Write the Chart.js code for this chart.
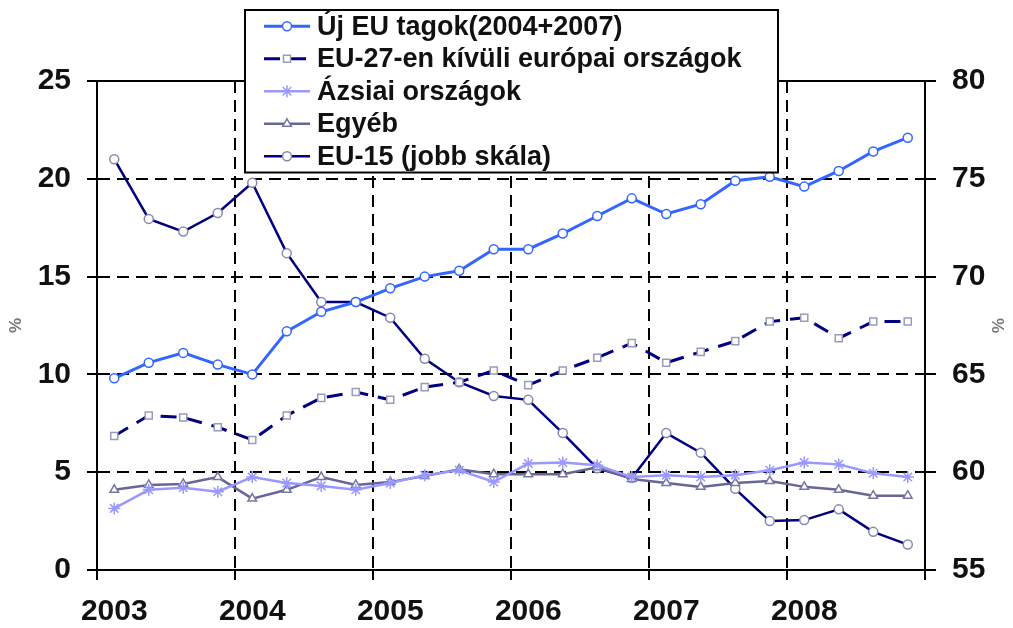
<!DOCTYPE html>
<html>
<head>
<meta charset="utf-8">
<script src="https://cdn.jsdelivr.net/npm/chart.js@4/dist/chart.umd.min.js"></script>
<style>
  html, body { margin: 0; padding: 0; background: #fff; }
  #wrap { width: 1013px; height: 628px; }
</style>
</head>
<body>
<div id="wrap"><canvas id="chart" width="1013" height="628"></canvas></div>
<script>
// ---- Data ----
const years = ["2003", "2004", "2005", "2006", "2007", "2008"];
const quarters = ["I", "II", "III", "IV"];
const quarterLabels = years.flatMap((y) => quarters.map((q) => y + " " + q));

const ujEuTagok = [9.8, 10.6, 11.1, 10.5, 10.0, 12.2, 13.2, 13.7, 14.4, 15.0, 15.3, 16.4,
                   16.4, 17.2, 18.1, 19.0, 18.2, 18.7, 19.9, 20.1, 19.6, 20.4, 21.4, 22.1];
const eu27Kivuli = [6.85, 7.9, 7.8, 7.3, 6.65, 7.9, 8.8, 9.1, 8.7, 9.35, 9.6, 10.2,
                    9.45, 10.2, 10.85, 11.6, 10.6, 11.15, 11.7, 12.7, 12.9, 11.85, 12.7, 12.7];
const azsiai = [3.15, 4.1, 4.2, 4.0, 4.75, 4.45, 4.3, 4.1, 4.45, 4.85, 5.1, 4.5,
                5.45, 5.5, 5.35, 4.75, 4.85, 4.75, 4.85, 5.1, 5.5, 5.4, 4.95, 4.75];
const egyeb = [4.1, 4.35, 4.4, 4.75, 3.65, 4.1, 4.75, 4.35, 4.5, 4.8, 5.15, 4.9,
               4.9, 4.9, 5.25, 4.65, 4.45, 4.25, 4.45, 4.55, 4.25, 4.1, 3.8, 3.8];
const eu15 = [76.0, 72.95, 72.3, 73.25, 74.8, 71.2, 68.7, 68.7, 67.9, 65.8, 64.6, 63.9,
              63.7, 62.0, 60.2, 59.7, 62.0, 61.0, 59.15, 57.5, 57.55, 58.1, 56.95, 56.3];

const leftTicks = { min: 0, max: 25, step: 5 };
const rightTicks = { min: 55, max: 80, step: 5 };

// ---- Style ----
const FONT = '"Liberation Sans", Arial, sans-serif';
const DASH = [12, 7];

// legend drawn as a framed box overlapping the plot (like the original)
const boxLegend = {
    id: "boxLegend",
    afterDraw(chart, args, opts) {
        const ctx = chart.ctx;
        const area = chart.chartArea;
        const sets = chart.data.datasets;
        const w = opts.width;
        const h = opts.rowHeight * sets.length;
        const left = Math.round((area.left + area.right - w) / 2);
        const top = opts.top;

        ctx.save();
        ctx.fillStyle = "#fff";
        ctx.fillRect(left, top, w, h);
        ctx.lineWidth = 2;
        ctx.strokeStyle = "#000";
        ctx.strokeRect(left, top, w, h);

        sets.forEach((ds, i) => {
            const y = top + opts.rowHeight * (i + 0.5);
            const x0 = left + 19;
            const x1 = x0 + 46;

            ctx.save();
            ctx.strokeStyle = ds.borderColor;
            ctx.lineWidth = ds.borderWidth;
            ctx.setLineDash(ds.borderDash || []);
            ctx.beginPath();
            ctx.moveTo(x0, y);
            ctx.lineTo(x1, y);
            ctx.stroke();
            ctx.restore();

            if (Chart.helpers && Chart.helpers.drawPoint) {
                ctx.save();
                ctx.setLineDash([]);
                ctx.fillStyle = ds.pointBackgroundColor;
                ctx.strokeStyle = ds.pointBorderColor;
                ctx.lineWidth = ds.pointBorderWidth;
                Chart.helpers.drawPoint(ctx, {
                    pointStyle: ds.pointStyle,
                    radius: ds.pointRadius,
                    rotation: 0,
                    borderWidth: ds.pointBorderWidth,
                }, (x0 + x1) / 2, y);
                ctx.restore();
            }

            ctx.fillStyle = "#111";
            ctx.font = opts.font;
            ctx.textBaseline = "middle";
            ctx.textAlign = "left";
            ctx.fillText(ds.label, x1 + 7, y + 1);
        });
        ctx.restore();
    },
};

function series(label, data, color, extra) {
    return Object.assign({
        label,
        data,
        borderColor: color,
        borderWidth: 2.5,
        pointBackgroundColor: "#fff",
        pointBorderColor: color,
        pointBorderWidth: 1.5,
        pointRadius: 4.5,
        pointStyle: "circle",
        tension: 0,
        fill: false,
        yAxisID: "y",
    }, extra);
}

new Chart(document.getElementById("chart"), {
    type: "line",
    data: {
        labels: quarterLabels,
        datasets: [
            series("Új EU tagok(2004+2007)", ujEuTagok, "#3366ff", { borderWidth: 3 }),
            series("EU-27-en kívüli európai országok", eu27Kivuli, "#000080", {
                borderWidth: 3,
                borderDash: [16, 10],
                pointStyle: "rect",
                pointRadius: 5,
                pointBorderColor: "#9a9abb",
            }),
            series("Ázsiai országok", azsiai, "#9999ff", {
                pointStyle: "star",
                pointRadius: 6,
            }),
            series("Egyéb", egyeb, "#666699", {
                pointStyle: "triangle",
                pointRadius: 5,
                pointBorderColor: "#7777a0",
            }),
            series("EU-15 (jobb skála)", eu15, "#000080", {
                pointBorderColor: "#8888b0",
                yAxisID: "y1",
            }),
        ],
    },
    options: {
        responsive: false,
        animation: false,
        layout: { padding: { top: 81, left: 4, right: 4, bottom: 0 } },
        plugins: {
            legend: { display: false },
            tooltip: { enabled: false },
            boxLegend: {
                width: 533,
                top: 10,
                rowHeight: 32.5,
                font: "bold 27px " + FONT,
            },
        },
        scales: {
            x: {
                type: "category",
                offset: true,
                grid: {
                    offset: true,
                    lineWidth: 2,
                    tickLength: 10,
                    color: (c) => (c.index === undefined || c.index % 4 === 0) ? "#000" : "rgba(0,0,0,0)",
                },
                border: { color: "#000", width: 2, dash: DASH },
                ticks: {
                    autoSkip: false,
                    maxRotation: 0,
                    padding: 14,
                    color: "#111",
                    font: { family: FONT, size: 30, weight: "bold" },
                    callback: (v, i) => (i % 4 === 0 ? years[i / 4] : ""),
                },
                afterFit: (s) => { s.height = 58; },
            },
            y: {
                position: "left",
                min: leftTicks.min,
                max: leftTicks.max,
                grid: { color: "#000", lineWidth: 2, tickLength: 10 },
                border: {
                    color: "#000",
                    width: 2,
                    dash: (c) => (c.tick && c.tick.value === leftTicks.max ? [] : DASH),
                },
                ticks: {
                    stepSize: leftTicks.step,
                    padding: 16,
                    color: "#111",
                    font: { family: FONT, size: 30, weight: "bold" },
                },
                title: {
                    display: true,
                    text: "%",
                    color: "#777",
                    font: { family: FONT, size: 17, weight: "bold" },
                    padding: 2,
                },
                afterFit: (s) => { s.width = 93; },
            },
            y1: {
                position: "right",
                min: rightTicks.min,
                max: rightTicks.max,
                grid: { drawOnChartArea: false, color: "#000", lineWidth: 2, tickLength: 11 },
                border: { color: "#000", width: 2 },
                ticks: {
                    stepSize: rightTicks.step,
                    padding: 16,
                    color: "#111",
                    font: { family: FONT, size: 30, weight: "bold" },
                },
                title: {
                    display: true,
                    text: "%",
                    color: "#777",
                    font: { family: FONT, size: 17, weight: "bold" },
                    padding: 2,
                },
                afterFit: (s) => { s.width = 84; },
            },
        },
    },
    plugins: [boxLegend],
});
</script>
</body>
</html>
